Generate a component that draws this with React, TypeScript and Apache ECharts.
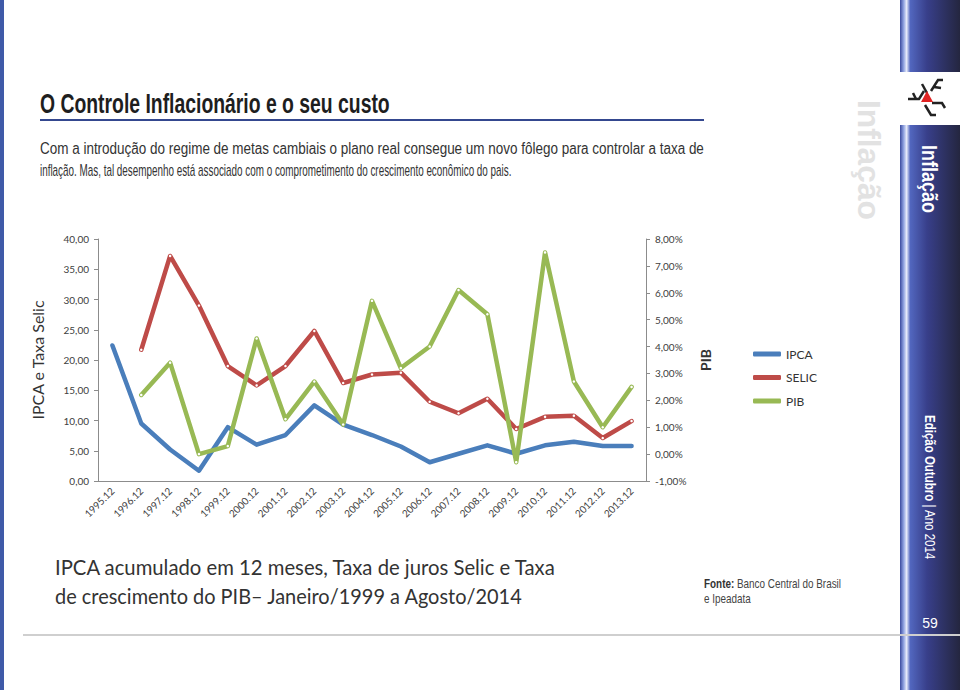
import React, { useEffect, useRef } from "react";
import * as echarts from "echarts";

const categories = [
  "1995.12", "1996.12", "1997.12", "1998.12", "1999.12", "2000.12", "2001.12",
  "2002.12", "2003.12", "2004.12", "2005.12", "2006.12", "2007.12", "2008.12",
  "2009.12", "2010.12", "2011.12", "2012.12", "2013.12",
];
const ipca = [22.4, 9.5, 5.2, 1.7, 8.9, 6.0, 7.6, 12.5, 9.3, 7.6, 5.7, 3.1, 4.5, 5.9, 4.5, 5.9, 6.5, 5.8, 5.8];
const selic = [null, 21.7, 37.2, 29.0, 19.0, 15.8, 19.0, 24.8, 16.2, 17.6, 17.9, 13.1, 11.2, 13.6, 8.6, 10.6, 10.8, 7.1, 9.9];
const pib = [null, 2.2, 3.4, 0.0, 0.3, 4.3, 1.3, 2.7, 1.1, 5.7, 3.2, 4.0, 6.1, 5.2, -0.3, 7.5, 2.7, 1.0, 2.5];
const seriesNames = ["IPCA", "SELIC", "PIB"];
const seriesColors = ["#4a7ebb", "#be4b48", "#98b954"];

const titleText = "O Controle Inflacionário e o seu custo";
const paraLines = [
  "Com a introdução do regime de metas cambiais o plano real consegue um novo fôlego para controlar a taxa de",
  "inflação. Mas, tal desempenho está associado com o comprometimento do crescimento econômico do pais.",
];
const captionLines = [
  "IPCA acumulado em 12 meses, Taxa de juros Selic e Taxa",
  "de crescimento do PIB– Janeiro/1999 a Agosto/2014",
];

const SANS = "'Liberation Sans', Arial, sans-serif";
const CAL = "Lato, 'Open Sans', sans-serif";

function makeMeasurer() {
  const c = document.createElement("canvas");
  const ctx = c.getContext("2d")!;
  return (text: string, font: string) => {
    ctx.font = font;
    return ctx.measureText(text).width;
  };
}

export default function App() {
  const ref = useRef<HTMLDivElement>(null);
  useEffect(() => {
    if (!ref.current) return;
    const chart = echarts.init(ref.current, undefined, { renderer: "svg" });
    const m = makeMeasurer();
    const fit = (text: string, font: string, w: number) => w / m(text, font);

    const titleScale = fit(titleText, `bold 28px ${SANS}`, 350);
    const p1Scale = fit(paraLines[0], `16px ${SANS}`, 664);
    const p2Scale = fit(paraLines[1], `16px ${SANS}`, 472);
    const c1Scale = fit(captionLines[0], `21px ${CAL}`, 502);
    const c2Scale = fit(captionLines[1], `21px ${CAL}`, 468);
    const fonteW = m("Fonte:", `bold 13px ${SANS}`) + m(" Banco Central do Brasil", `13px ${SANS}`);
    const fonteScale = 137 / fonteW;
    const inflScale = fit("Inflação", `bold 22px ${SANS}`, 68);
    const inflFadeScale = fit("Inflação", `bold 32px ${SANS}`, 120);
    const edW = m("Edição Outubro", `bold 15px ${SANS}`) + m(" | Ano 2014", `15px ${SANS}`);
    const edScale = 145 / edW;

    const graphics: any[] = [
      { type: "rect", shape: { x: 0, y: 0, width: 4, height: 690 }, style: { fill: "#3f5aa8" }, z: 1 },
      {
        type: "rect",
        shape: { x: 900, y: 0, width: 60, height: 690 },
        style: {
          fill: new echarts.graphic.LinearGradient(0, 0, 1, 0, [
            { offset: 0, color: "#3a4a9e" },
            { offset: 0.06, color: "#8fa2e0" },
            { offset: 0.11, color: "#e8ecfb" },
            { offset: 0.17, color: "#5267bf" },
            { offset: 0.45, color: "#383f8a" },
            { offset: 1, color: "#24263f" },
          ]),
        },
        z: 1,
      },
      { type: "rect", shape: { x: 900, y: 72, width: 60, height: 53 }, style: { fill: "#ffffff" }, z: 2 },
      // logo (simplified)
      { type: "polyline", shape: { points: [[908, 99], [919, 99], [924, 91]] }, style: { stroke: "#222", lineWidth: 2.5, fill: null }, z: 3 },
      { type: "polyline", shape: { points: [[913, 93], [916, 99]] }, style: { stroke: "#222", lineWidth: 2.5, fill: null }, z: 3 },
      { type: "polyline", shape: { points: [[922, 84], [927, 93]] }, style: { stroke: "#222", lineWidth: 2.5, fill: null }, z: 3 },
      { type: "polyline", shape: { points: [[931, 91], [938, 80], [943, 80]] }, style: { stroke: "#222", lineWidth: 2.5, fill: null }, z: 3 },
      { type: "polyline", shape: { points: [[934, 87], [941, 88]] }, style: { stroke: "#222", lineWidth: 2.5, fill: null }, z: 3 },
      { type: "polyline", shape: { points: [[932, 103], [942, 103], [945, 108]] }, style: { stroke: "#222", lineWidth: 2.5, fill: null }, z: 3 },
      { type: "polyline", shape: { points: [[925, 105], [931, 115], [936, 115]] }, style: { stroke: "#222", lineWidth: 2.5, fill: null }, z: 3 },
      { type: "polygon", shape: { points: [[927, 91], [933, 102], [921, 102]] }, style: { fill: "#e02222" }, z: 3 },
      // side texts
      {
        type: "text", x: 930, y: 145, rotation: -Math.PI / 2, scaleX: inflScale, z: 3,
        style: { text: "Inflação", fontSize: 22, fontWeight: "bold", fontFamily: SANS, fill: "#ffffff", align: "left", verticalAlign: "middle" },
      },
      {
        type: "text", x: 869, y: 100, rotation: -Math.PI / 2, scaleX: inflFadeScale, z: 3,
        style: { text: "Inflação", fontSize: 32, fontWeight: "bold", fontFamily: SANS, fill: "#e2e2e2", align: "left", verticalAlign: "middle" },
      },
      {
        type: "text", x: 930, y: 415, rotation: -Math.PI / 2, scaleX: edScale, z: 3,
        style: {
          text: "{b|Edição Outubro}{r| | Ano 2014}",
          align: "left", verticalAlign: "middle",
          rich: {
            b: { fontSize: 15, fontWeight: "bold", fontFamily: SANS, fill: "#ffffff" },
            r: { fontSize: 15, fontFamily: SANS, fill: "#ffffff" },
          },
        },
      },
      {
        type: "text", x: 930, y: 623, z: 3,
        style: { text: "59", fontSize: 14, fontFamily: SANS, fill: "#ffffff", align: "center", verticalAlign: "middle" },
      },
      { type: "line", shape: { x1: 23, y1: 635, x2: 960, y2: 635 }, style: { stroke: "#cfcfcf", lineWidth: 2 }, z: 4 },
      // title and paragraph
      {
        type: "text", x: 40, y: 103, scaleX: titleScale, z: 3,
        style: { text: titleText, fontSize: 28, fontWeight: "bold", fontFamily: SANS, fill: "#1e1e1e", align: "left", verticalAlign: "middle" },
      },
      { type: "line", shape: { x1: 40, y1: 120, x2: 704, y2: 120 }, style: { stroke: "#34488f", lineWidth: 2 }, z: 3 },
      {
        type: "text", x: 40, y: 149, scaleX: p1Scale, z: 3,
        style: { text: paraLines[0], fontSize: 16, fontFamily: SANS, fill: "#333333", align: "left", verticalAlign: "middle" },
      },
      {
        type: "text", x: 40, y: 171, scaleX: p2Scale, z: 3,
        style: { text: paraLines[1], fontSize: 16, fontFamily: SANS, fill: "#333333", align: "left", verticalAlign: "middle" },
      },
      // caption
      {
        type: "text", x: 55, y: 567, scaleX: c1Scale, z: 3,
        style: { text: captionLines[0], fontSize: 21, fontFamily: CAL, fill: "#333333", align: "left", verticalAlign: "middle" },
      },
      {
        type: "text", x: 55, y: 596, scaleX: c2Scale, z: 3,
        style: { text: captionLines[1], fontSize: 21, fontFamily: CAL, fill: "#333333", align: "left", verticalAlign: "middle" },
      },
      {
        type: "text", x: 704, y: 584, scaleX: fonteScale, z: 3,
        style: {
          text: "{b|Fonte:}{r| Banco Central do Brasil}",
          align: "left", verticalAlign: "middle",
          rich: {
            b: { fontSize: 13, fontWeight: "bold", fontFamily: SANS, fill: "#333333" },
            r: { fontSize: 13, fontFamily: SANS, fill: "#444444" },
          },
        },
      },
      {
        type: "text", x: 704, y: 599, scaleX: fonteScale, z: 3,
        style: { text: "e Ipeadata", fontSize: 13, fontFamily: SANS, fill: "#444444", align: "left", verticalAlign: "middle" },
      },
    ];

    const fmt = (v: number) => v.toFixed(2).replace(".", ",");
    const dataSets = [ipca, selic, pib];

    chart.setOption({
      animation: false,
      backgroundColor: "#ffffff",
      grid: { left: 98, right: 314, top: 239, bottom: 209 },
      legend: {
        orient: "vertical",
        left: 748,
        top: 342,
        icon: "roundRect",
        itemWidth: 28,
        itemHeight: 5,
        itemGap: 9.5,
        textStyle: { fontSize: 12, fontFamily: CAL, color: "#333333", lineHeight: 14 },
        data: seriesNames.map((n, i) => ({ name: n, itemStyle: { color: seriesColors[i] } })),
      },
      xAxis: {
        type: "category",
        data: categories,
        boundaryGap: true,
        axisLine: { lineStyle: { color: "#8c8c8c", width: 1 } },
        axisTick: { length: 4, lineStyle: { color: "#8c8c8c" } },
        axisLabel: { rotate: 45, fontSize: 10, fontFamily: CAL, color: "#404040", margin: 8, interval: 0 },
      },
      yAxis: [
        {
          type: "value",
          min: 0,
          max: 40,
          interval: 5,
          name: "IPCA e Taxa Selic",
          nameLocation: "middle",
          nameRotate: 90,
          nameGap: 53,
          nameTextStyle: { fontSize: 16, fontFamily: CAL, color: "#333333" },
          axisLine: { show: true, lineStyle: { color: "#8c8c8c" } },
          axisTick: { show: true, length: 4, lineStyle: { color: "#8c8c8c" } },
          splitLine: { show: false },
          axisLabel: { fontSize: 10, fontFamily: CAL, color: "#404040", margin: 9, formatter: fmt },
        },
        {
          type: "value",
          min: -1,
          max: 8,
          interval: 1,
          position: "right",
          name: "PIB",
          nameLocation: "middle",
          nameRotate: 90,
          nameGap: 52,
          nameTextStyle: { fontSize: 14, fontFamily: CAL, color: "#333333", fontWeight: "bold" },
          axisLine: { show: true, lineStyle: { color: "#8c8c8c" } },
          axisTick: { show: true, length: 4, lineStyle: { color: "#8c8c8c" } },
          splitLine: { show: false },
          axisLabel: { fontSize: 10, fontFamily: CAL, color: "#404040", margin: 9, formatter: (v: number) => fmt(v) + "%" },
        },
      ],
      series: seriesNames.map((n, i) => ({
        name: n,
        type: "line",
        yAxisIndex: i === 2 ? 1 : 0,
        data: dataSets[i],
        color: seriesColors[i],
        showSymbol: i !== 0,
        symbol: "circle",
        symbolSize: 2.5,
        itemStyle: { color: i === 0 ? seriesColors[i] : "#ffffff", borderWidth: 0 },
        lineStyle: { width: 4.5, color: seriesColors[i], join: "round", cap: "round" },
        connectNulls: false,
        z: 2 + i,
      })),
      graphic: graphics,
    });
    return () => chart.dispose();
  }, []);
  return (
    <div
      ref={ref}
      style={{ position: "fixed", left: 0, top: 0, width: 960, height: 690 }}
    />
  );
}
